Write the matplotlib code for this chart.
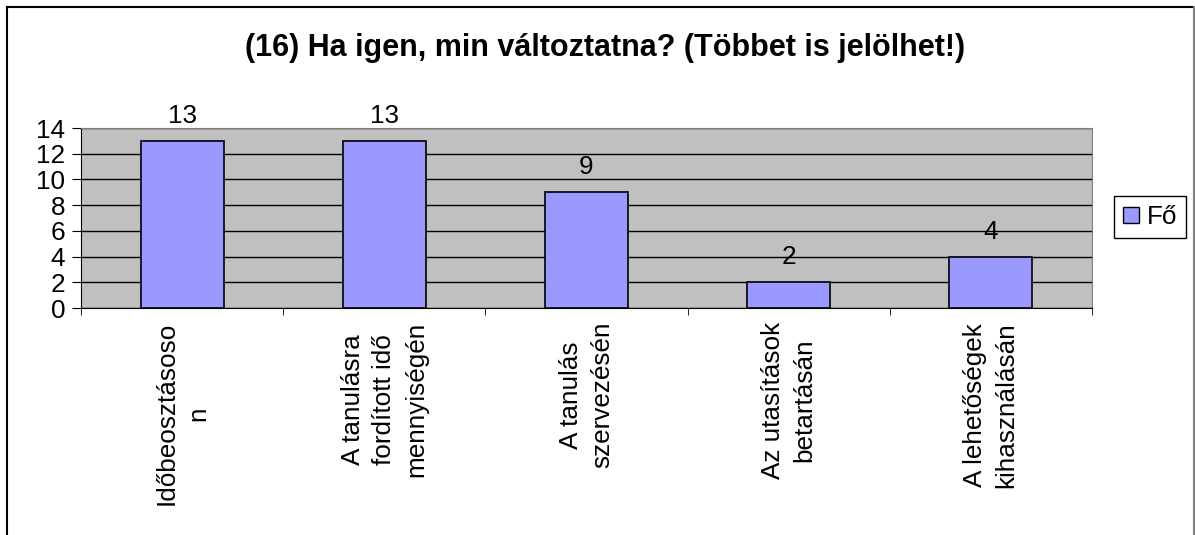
import matplotlib
matplotlib.use("Agg")
import matplotlib.pyplot as plt
from matplotlib.lines import Line2D
from matplotlib.patches import Patch
import numpy as np

plt.rcParams['font.family'] = ['Liberation Sans', 'DejaVu Sans']

# adatok
categories = ["Időbeosztásoso\nn",
              "A tanulásra\nfordított idő\nmennyiségén",
              "A tanulás\nszervezésén",
              "Az utasítások\nbetartásán",
              "A lehetőségek\nkihasználásán"]
values = [13, 13, 9, 2, 4]
series_name = "Fő"
title = "(16) Ha igen, min változtatna? (Többet is jelölhet!)"
yticks = [0, 2, 4, 6, 8, 10, 12, 14]

W, H = 1195, 535
fs = 18.8
fig = plt.figure(figsize=(W / 100, H / 100), dpi=100)

# keret
fig.add_artist(Line2D([7 / W, 7 / W], [0, 1 - 7 / H], color="black", lw=1.5))
fig.add_artist(Line2D([7 / W, 1194 / W], [1 - 7 / H, 1 - 7 / H], color="black", lw=1.5))
fig.add_artist(Line2D([1194 / W, 1194 / W], [0, 1 - 7 / H], color="#808080", lw=1.5))

ax = fig.add_axes([81 / W, 1 - 308 / H, (1092 - 81) / W, (308 - 128) / H])
ax.set_facecolor("#C0C0C0")

x = np.arange(len(values))
bars = ax.bar(x, values, width=0.41, color="#9999FF", edgecolor="black",
              linewidth=1.2, zorder=3)
for xi, v in zip(x, values):
    ax.text(xi, v + 1.0, str(v), ha="center", va="bottom", fontsize=fs)

ax.set_xlim(-0.5, len(values) - 0.5)
ax.set_ylim(0, 14)
ax.set_yticks(yticks)
ax.tick_params(axis="y", labelsize=fs, length=6.5, pad=5, direction="out")
ax.yaxis.grid(True, color="black", lw=1, zorder=1)
ax.set_axisbelow(True)

ax.set_xticks(x)
ax.set_xticklabels(categories, rotation=90, fontsize=fs, ha="center",
                   va="top", multialignment="center", linespacing=1.4)
ax.tick_params(axis="x", length=0, pad=10)
ax.set_xticks(np.arange(len(values) + 1) - 0.5, minor=True)
ax.tick_params(axis="x", which="minor", length=5, direction="out")

for s in ["top", "right"]:
    ax.spines[s].set_color("#808080")
for s in ["left", "bottom"]:
    ax.spines[s].set_color("black")

fig.text(605 / W, 1 - 48 / H, title, ha="center", va="center",
         fontsize=22, fontweight="bold")

handle = Patch(facecolor="#9999FF", edgecolor="black", label=series_name)
leg = fig.legend(handles=[handle], loc="center",
                 bbox_to_anchor=(1150 / W, 1 - 217 / H), fontsize=fs,
                 fancybox=False, edgecolor="black", framealpha=1,
                 handlelength=0.6, handleheight=0.6, handletextpad=0.3,
                 borderpad=0.35, borderaxespad=0)
leg.get_frame().set_linewidth(1)

fig.savefig("out.png", dpi=100)
